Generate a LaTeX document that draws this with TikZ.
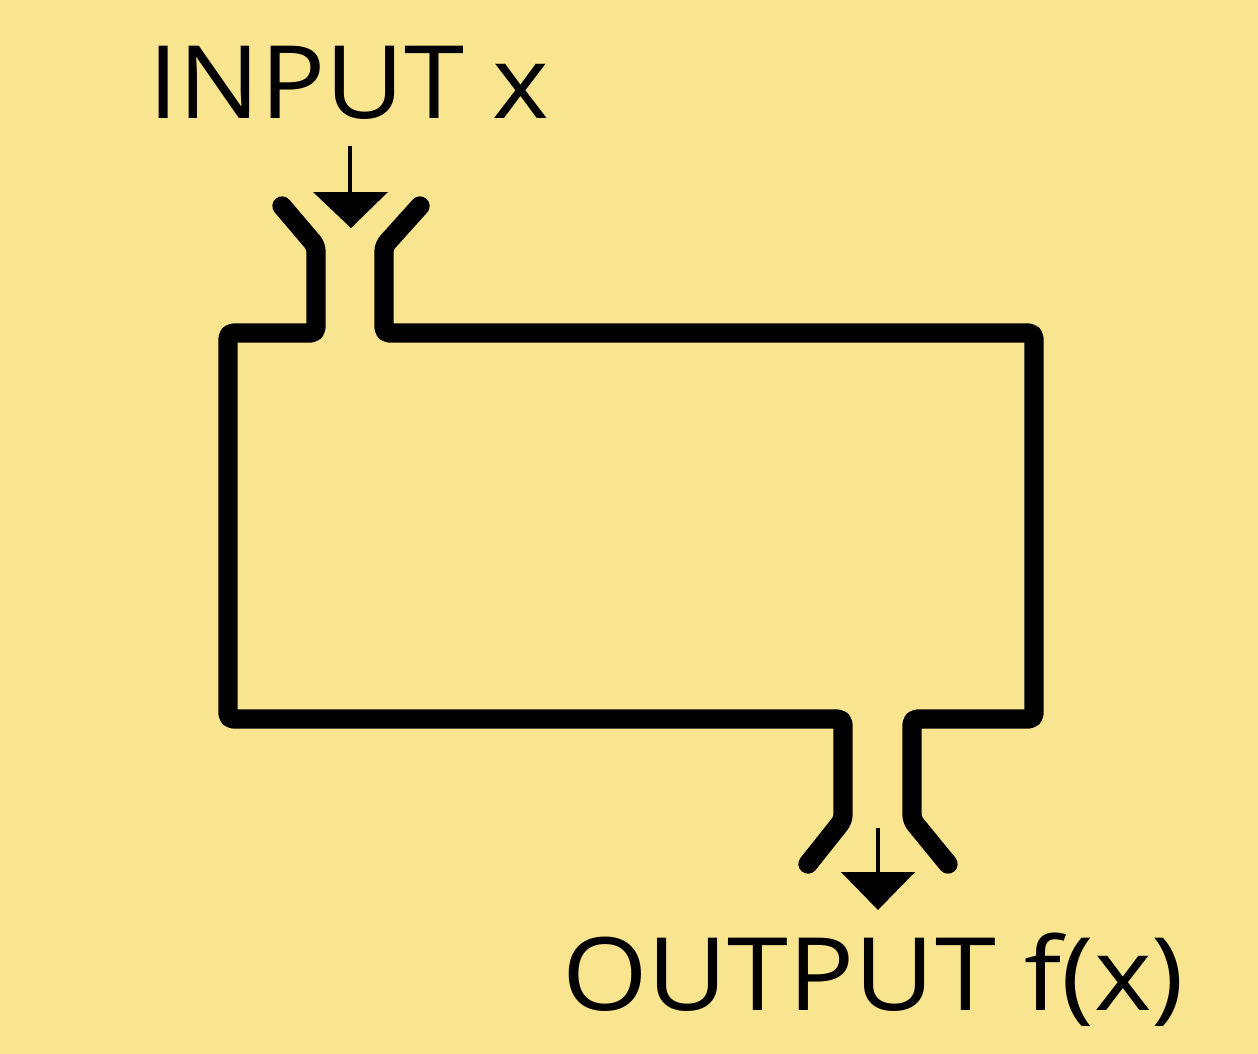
\documentclass[tikz,border=0pt]{standalone}
\usepackage{fontspec}
\setmainfont{Open Sans}
\definecolor{bgyellow}{RGB}{249,228,143}
\begin{document}
\begin{tikzpicture}[x=0.75pt,y=-0.75pt,
  pipe/.style={draw=black,line width=14.5pt,line join=round,line cap=round,rounded corners=4pt},
  thin/.style={draw=black,line width=2.4pt},
  tip/.style={fill=black},
  label/.style={inner sep=0pt,anchor=base west,font=\fontsize{76pt}{80pt}\selectfont}]
\fill[bgyellow] (0,0) rectangle (1258,1054);
\useasboundingbox (0,0) rectangle (1258,1054);
% text
\node[label,xscale=1.07] (in) at (148,118) {INPUT x};
\node[label,xscale=1.085] (out) at (562,1010) {OUTPUT f(x)};
% machine outline
\coordinate (a1) at (282,206);
\coordinate (a2) at (316,246);
\coordinate (a3) at (316,333);
\coordinate (b1) at (228,333);
\coordinate (b2) at (228,719);
\coordinate (c3) at (843,719);
\coordinate (c2) at (843,820);
\coordinate (c1) at (808,864);
\coordinate (d1) at (948,864);
\coordinate (d2) at (912,820);
\coordinate (d3) at (912,719);
\coordinate (e2) at (1034,719);
\coordinate (e1) at (1034,333);
\coordinate (f3) at (384,333);
\coordinate (f2) at (384,246);
\coordinate (f1) at (420,206);
\draw[pipe] (a1) -- (a2) -- (a3) -- (b1) -- (b2) -- (c3) -- (c2) -- (c1);
\draw[pipe] (d1) -- (d2) -- (d3) -- (e2) -- (e1) -- (f3) -- (f2) -- (f1);
% input arrow
\coordinate (ia) at (350,146);
\coordinate (ib) at (350,194);
\draw[thin] (ia) -- (ib);
\fill[tip] (313,192) -- (388,192) -- (351,228) -- cycle;
% output arrow
\coordinate (oa) at (878,828);
\coordinate (ob) at (878,874);
\draw[thin] (oa) -- (ob);
\fill[tip] (841,872) -- (915,872) -- (878,910) -- cycle;
\end{tikzpicture}
\end{document}
